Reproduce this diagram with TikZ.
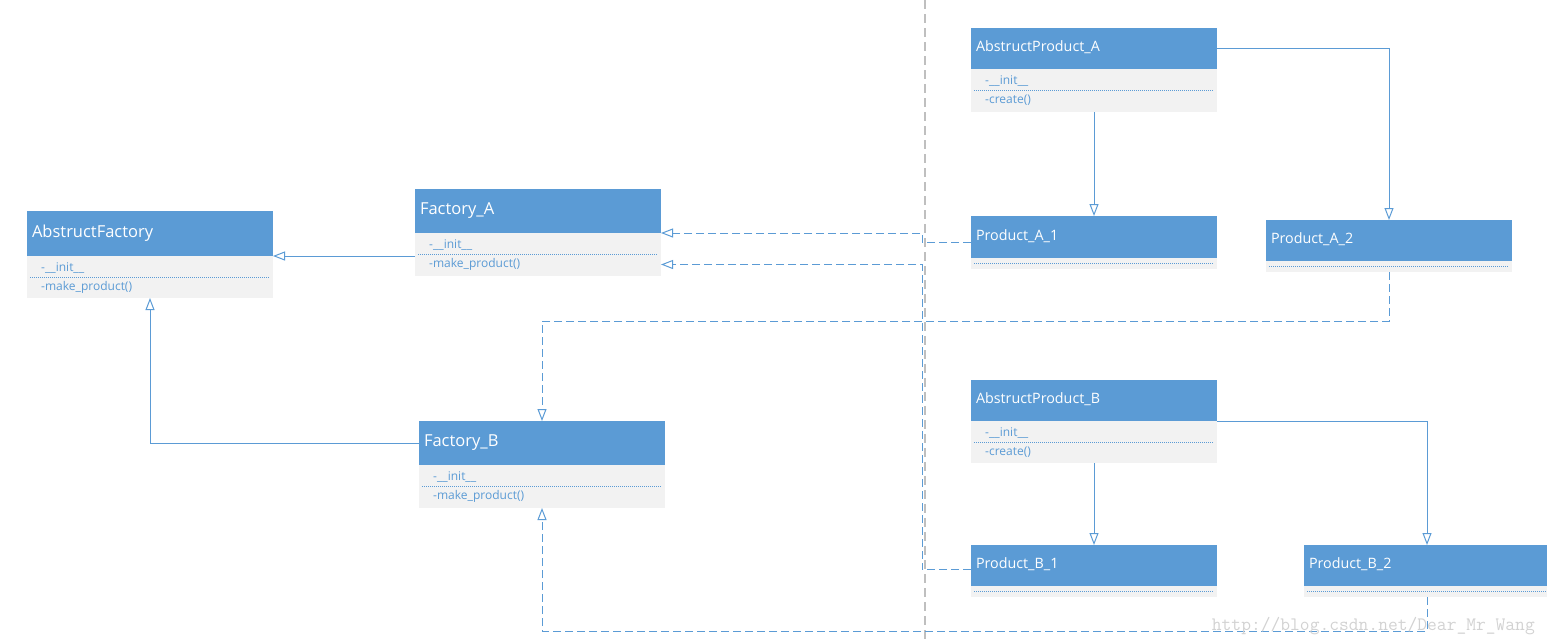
\documentclass[tikz,border=0pt]{standalone}
\usepackage{fontspec}
\setmainfont{Open Sans}
\usetikzlibrary{arrows.meta,calc}
\definecolor{hb}{HTML}{5B9BD5}
\definecolor{cg}{HTML}{F2F2F2}
\definecolor{ln}{HTML}{5B9BD5}
\definecolor{gl}{HTML}{BFBFBF}
\definecolor{wmc}{HTML}{D2D2D2}
\newcommand{\umlbox}[7]{% name, x, y, title, header h, comp h, font size
  \node[hdr, minimum height=#5, font=\fontsize{#7}{#7}\selectfont] (#1h) at (#2,#3) {\strut #4};
  \node[cmp, minimum height=#6] (#1c) at (#1h.south west) {};
}
\newcommand{\members}[3]{%
  \node[item] (#1i) at ($(#1c.north west)+(14,12)$) {#2};
  \node[item] (#1m) at ($(#1c.north west)+(14,31.5)$) {#3};
  \draw[sep] ($(#1c.north west)+(3,21.5)$) -- ($(#1c.north east)+(-3,21.5)$);
}
\newcommand{\nomembers}[1]{%
  \draw[sep] ($(#1c.west)+(3,0)$) -- ($(#1c.east)+(-3,0)$);
}
\begin{document}
\begin{tikzpicture}[x=1pt,y=-1pt,
  hdr/.style={anchor=north west, fill=hb, text=white, text width=236pt,
    inner xsep=5pt, inner ysep=0pt, outer sep=0pt, align=left},
  cmp/.style={anchor=north west, fill=cg, minimum width=246pt, inner sep=0pt, outer sep=0pt},
  item/.style={anchor=west, inner sep=0pt, text=hb, font=\fontsize{12}{12}\selectfont},
  sep/.style={draw=hb, line width=0.8pt, dash pattern=on 1pt off 1pt},
  inh/.style={draw=ln, line width=1pt, -{Triangle[open,length=12pt,width=9pt]}},
  dep/.style={inh, dash pattern=on 8pt off 4pt},
  guide/.style={draw=gl, line width=1.1pt, dash pattern=on 9pt off 5pt},
  wmark/.style={text=wmc, inner sep=0pt, font=\ttfamily\fontsize{19}{19}\selectfont}
]
\useasboundingbox (0,0) rectangle (1547,643);
% guide line
\coordinate (gt) at (925,0);
\coordinate (gb) at (925,643);
\draw[guide] (gt) -- (gb);

% classes
\umlbox{af}{27}{211}{AbstructFactory}{45pt}{42pt}{16.5}
\members{af}{-\_\_init\_\_}{-make\_product()}
\umlbox{fa}{415}{189}{Factory\_A}{44pt}{43pt}{16.5}
\members{fa}{-\_\_init\_\_}{-make\_product()}
\umlbox{fb}{419}{421}{Factory\_B}{44pt}{43pt}{16.5}
\members{fb}{-\_\_init\_\_}{-make\_product()}
\umlbox{apa}{971}{28}{AbstructProduct\_A}{41pt}{43pt}{14.3}
\members{apa}{-\_\_init\_\_}{-create()}
\umlbox{apb}{971}{380}{AbstructProduct\_B}{41pt}{42pt}{14.3}
\members{apb}{-\_\_init\_\_}{-create()}
\umlbox{pa1}{971}{216}{Product\_A\_1}{42pt}{11pt}{14.3}
\nomembers{pa1}
\umlbox{pa2}{1266}{220}{Product\_A\_2}{41pt}{11pt}{14.3}
\nomembers{pa2}
\umlbox{pb1}{971}{545}{Product\_B\_1}{41pt}{11pt}{14.3}
\nomembers{pb1}
\umlbox{pb2}{1304}{545}{Product\_B\_2}{41pt}{11pt}{14.3}
\nomembers{pb2}

% inheritance-style connectors
\draw[inh] (fac.west |- afh.south) -- (afh.south east);
\draw[inh] (fbh.west) -| (afc.south);
\draw[inh] (apac.south) -- (pa1h.north);
\draw[inh] (apah.east) -| (pa2h.north);
\draw[inh] (apbc.south) -- (pb1h.north);
\draw[inh] (apbh.south east) -| (pb2h.north);

% dashed connectors
\coordinate (bus) at (922,0);
\draw[dep] ($(pa1h.west)+(0,5)$) -| (bus |- fah.south) -- (fah.south east);
\draw[dep] ($(pb1h.west)+(0,4)$) -| (bus |- fam) -- (fac.east |- fam);
\draw[dep] (pa2c.south) -- ++(0,49) -| (fbh.north);
\draw[dep] (pb2c.south) -- ++(0,34) -| (fbc.south);

% watermark
\node[wmark, anchor=base east] (wm) at (1535,630) {http://blog.csdn.net/Dear\_Mr\_Wang};
\end{tikzpicture}
\end{document}
